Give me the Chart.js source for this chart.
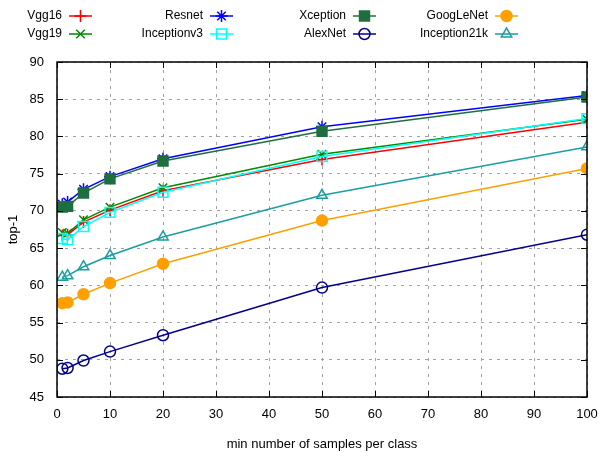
<!DOCTYPE html>
<html lang="en">
<head>
<meta charset="UTF-8">
<title>top-1 vs samples per class</title>
<script src="https://cdn.jsdelivr.net/npm/chart.js"></script>
<style>
  body { margin: 0; background: #fff; }
  #wrap { width: 598px; height: 452px; }
</style>
</head>
<body>
<div id="wrap"><canvas id="chart" width="598" height="452"></canvas></div>
<script>
// samples per class (x) and top-1 accuracy per network
const samples = [1, 2, 5, 10, 20, 50, 100];
const vgg16 = [66.7, 66.8, 68.5, 70.1, 72.7, 76.9, 81.9];
const vgg19 = [67.1, 67.0, 68.8, 70.5, 73.1, 77.6, 82.3];
const resnet = [70.9, 71.2, 72.9, 74.6, 77.0, 81.3, 85.5];
const inceptionv3 = [66.3, 66.1, 67.9, 69.8, 72.5, 77.3, 82.4];
const xception = [70.5, 70.6, 72.4, 74.3, 76.7, 80.7, 85.3];
const alexnet = [48.8, 48.9, 49.9, 51.1, 53.3, 59.7, 66.8];
const googlenet = [57.6, 57.7, 58.8, 60.3, 62.9, 68.7, 75.7];
const inception21k = [61.1, 61.3, 62.5, 64.0, 66.5, 72.1, 78.6];

const xTicks = [0, 10, 20, 30, 40, 50, 60, 70, 80, 90, 100];
const yTicks = [45, 50, 55, 60, 65, 70, 75, 80, 85, 90];

const FONT = "'Liberation Sans', Arial, sans-serif";
const NONE = 'rgba(0,0,0,0)';

const series = [
  { label: 'Vgg16', data: vgg16, color: '#ff0000', style: 'cross', fill: false },
  { label: 'Vgg19', data: vgg19, color: '#008a00', style: 'crossRot', fill: false },
  { label: 'Resnet', data: resnet, color: '#0000ff', style: 'star', fill: false },
  { label: 'Inceptionv3', data: inceptionv3, color: '#00ffff', style: 'rect', fill: false },
  { label: 'Xception', data: xception, color: '#1e6e40', style: 'rect', fill: true },
  { label: 'AlexNet', data: alexnet, color: '#00008b', style: 'circle', fill: false },
  { label: 'GoogLeNet', data: googlenet, color: '#ffa000', style: 'circle', fill: true },
  { label: 'Inception21k', data: inception21k, color: '#1a9ea0', style: 'triangle', fill: false }
];

const markerSize = s => {
  if (s.style === 'rect') return 7;
  if (s.style === 'triangle') return 6;
  if (s.style === 'circle') return 5.5;
  return 6;
};

const datasets = series.map((s, i) => ({
  label: s.label,
  data: samples.map((x, j) => ({ x: x, y: s.data[j] })),
  borderColor: s.color,
  backgroundColor: s.fill ? s.color : NONE,
  borderWidth: 1.5,
  pointStyle: s.style,
  pointRadius: markerSize(s),
  pointBorderWidth: 1.5,
  pointBorderColor: s.color,
  pointBackgroundColor: s.fill ? s.color : NONE,
  order: series.length - i,
  tension: 0
}));

// gnuplot-style key (text right aligned, then a line sample with its marker)
const keyPlugin = {
  id: 'key',
  afterDraw(chart) {
    const ctx = chart.ctx;
    const colX = [62, 203, 346, 488];
    const rowY = [16, 34];
    ctx.save();
    ctx.font = '12px ' + FONT;
    ctx.textAlign = 'right';
    ctx.textBaseline = 'middle';
    series.forEach((s, i) => {
      const col = Math.floor(i / 2), row = i % 2;
      const x = colX[col], y = rowY[row];
      ctx.fillStyle = '#000';
      ctx.fillText(s.label, x, y);
      ctx.strokeStyle = s.color;
      ctx.lineWidth = 1.5;
      ctx.beginPath();
      ctx.moveTo(x + 7, y);
      ctx.lineTo(x + 30, y);
      ctx.stroke();
      ctx.fillStyle = s.fill ? s.color : NONE;
      Chart.helpers.drawPoint(ctx, {
        pointStyle: s.style, radius: markerSize(s), rotation: 0, borderWidth: 1.5
      }, x + 18.5, y);
    });
    ctx.restore();
  }
};

// black frame with inward tics on all four sides
const framePlugin = {
  id: 'frame',
  afterDatasetsDraw(chart) {
    const { ctx, chartArea: a, scales } = chart;
    ctx.save();
    ctx.strokeStyle = '#000';
    ctx.lineWidth = 1.5;
    ctx.strokeRect(a.left, a.top, a.right - a.left, a.bottom - a.top);
    ctx.lineWidth = 1;
    const len = 6;
    ctx.beginPath();
    xTicks.forEach(v => {
      const px = Math.round(scales.x.getPixelForValue(v)) + 0.5;
      ctx.moveTo(px, a.bottom); ctx.lineTo(px, a.bottom - len);
      ctx.moveTo(px, a.top); ctx.lineTo(px, a.top + len);
    });
    yTicks.forEach(v => {
      const py = Math.round(scales.y.getPixelForValue(v)) + 0.5;
      ctx.moveTo(a.left, py); ctx.lineTo(a.left + len, py);
      ctx.moveTo(a.right, py); ctx.lineTo(a.right - len, py);
    });
    ctx.stroke();
    ctx.restore();
  }
};

new Chart(document.getElementById('chart'), {
  type: 'line',
  data: { datasets: datasets },
  options: {
    responsive: false,
    animation: false,
    layout: { padding: { top: 62, right: 0, left: 0, bottom: 0 } },
    plugins: {
      legend: { display: false },
      tooltip: { enabled: false }
    },
    scales: {
      x: {
        type: 'linear',
        min: 0, max: 100,
        afterBuildTicks: axis => { axis.ticks = xTicks.map(v => ({ value: v })); },
        afterFit: axis => { axis.height = 55; axis.paddingLeft = 0; axis.paddingRight = 11; },
        grid: { color: '#a0a0a0', drawTicks: false, lineWidth: 1 },
        border: { display: false, dash: [3, 5] },
        ticks: { color: '#000', font: { family: FONT, size: 13 }, padding: 10, maxRotation: 0 },
        title: { display: true, text: 'min number of samples per class', color: '#000',
                 font: { family: FONT, size: 13 }, padding: { top: 3, bottom: 0 } }
      },
      y: {
        min: 45, max: 90,
        afterBuildTicks: axis => { axis.ticks = yTicks.map(v => ({ value: v })); },
        afterFit: axis => { axis.width = 57; axis.paddingTop = 0; axis.paddingBottom = 0; },
        grid: { color: '#a0a0a0', drawTicks: false, lineWidth: 1 },
        border: { display: false, dash: [3, 5] },
        ticks: { color: '#000', font: { family: FONT, size: 13 }, padding: 13 },
        title: { display: true, text: 'top-1', color: '#000',
                 font: { family: FONT, size: 13 }, padding: { top: 6, bottom: 0 } }
      }
    }
  },
  plugins: [framePlugin, keyPlugin]
});
</script>
</body>
</html>
